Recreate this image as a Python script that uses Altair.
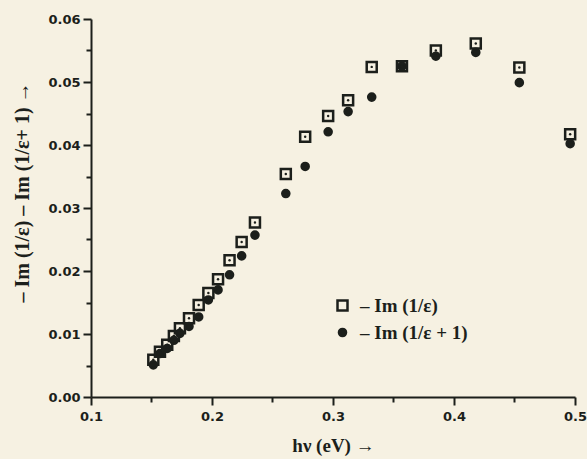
import altair as alt
import pandas as pd

# photon energy (eV) shared by both series
hv = [0.1515, 0.157, 0.163, 0.1685, 0.1735, 0.181, 0.189, 0.197, 0.205, 0.2145,
      0.2245, 0.2355, 0.261, 0.277, 0.296, 0.3125, 0.332, 0.357, 0.385, 0.418,
      0.454, 0.496]
im_eps = [0.0059, 0.0072, 0.0083, 0.0097, 0.0109, 0.0125, 0.0146, 0.0165, 0.0187,
          0.0217, 0.0246, 0.0277, 0.0354, 0.0413, 0.0446, 0.0471, 0.0524, 0.0525,
          0.0550, 0.0561, 0.0523, 0.0417]
im_eps1 = [0.0051, 0.0069, 0.0077, 0.0090, 0.0101, 0.0112, 0.0127, 0.0154, 0.0170,
           0.0194, 0.0224, 0.0257, 0.0323, 0.0366, 0.0421, 0.0453, 0.0476, 0.0525,
           0.0541, 0.0547, 0.0499, 0.0402]
series_names = ["– Im (1/ε)", "– Im (1/ε + 1)"]
y_ticks = [round(i * 0.005, 3) for i in range(13)]
x_ticks = [round(0.1 + i * 0.05, 2) for i in range(9)]

rows = []
for name, vals in [(series_names[1], im_eps1), (series_names[0], im_eps)]:
    for x, v in zip(hv, vals):
        rows.append({"hv": x, "val": v, "series": name})
df = pd.DataFrame(rows)

INK = "#1c1f1b"
BG = "#f6f1e2"
TICKFONT = "DejaVu Sans"
SERIF = "Liberation Serif"

xscale = alt.Scale(domain=[0.1, 0.5], nice=False, zero=False)
yscale = alt.Scale(domain=[0.0, 0.06], nice=False, zero=False)

xaxis = alt.Axis(
    values=x_ticks, ticks=True,
    labelExpr="round(datum.value*20)%2==0 ? format(datum.value,'.1f') : ''",
    title="hν (eV) →",
    titleFont=SERIF, titleFontSize=19, titleFontWeight="bold", titleColor=INK,
    titleY=48, titleBaseline="middle",
    labelFont=TICKFONT, labelFontSize=13, labelFontWeight="bold", labelColor=INK,
    labelPadding=5, labelFlush=False,
    tickSize={"condition": {"test": "round(datum.value*20)%2==0", "value": 8}, "value": 5},
    tickColor=INK, tickWidth=2, tickOpacity=1,
    domainColor=INK, domainWidth=2, grid=False,
)
yaxis = alt.Axis(
    values=y_ticks, ticks=True,
    labelExpr="round(datum.value*200)%2==0 ? format(datum.value,'.2f') : ''",
    title="– Im (1/ε)  – Im (1/ε+ 1) →",
    titleFont=SERIF, titleFontSize=20, titleFontWeight="bold", titleColor=INK,
    titleX=-69, titleY=173, titleBaseline="middle",
    labelFont=TICKFONT, labelFontSize=13, labelFontWeight="bold", labelColor=INK,
    labelPadding=3,
    tickSize={"condition": {"test": "round(datum.value*200)%2==0", "value": 8}, "value": 5},
    tickColor=INK, tickWidth=2, tickOpacity=1,
    domainColor=INK, domainWidth=2, grid=False,
)

dom = series_names
points = alt.Chart(df).mark_point(strokeWidth=2.5, opacity=1).encode(
    x=alt.X("hv:Q", scale=xscale, axis=xaxis),
    y=alt.Y("val:Q", scale=yscale, axis=yaxis),
    shape=alt.Shape("series:N", scale=alt.Scale(domain=dom, range=["square", "circle"]),
                    legend=alt.Legend(title=None)),
    fill=alt.Fill("series:N", scale=alt.Scale(domain=dom, range=["transparent", INK]),
                  legend=alt.Legend(title=None)),
    stroke=alt.Stroke("series:N", scale=alt.Scale(domain=dom, range=[INK, INK]),
                      legend=alt.Legend(title=None)),
    size=alt.Size("series:N", scale=alt.Scale(domain=dom, range=[100, 50]),
                  legend=alt.Legend(title=None)),
)

dots = alt.Chart(df).transform_filter(
    alt.datum.series == series_names[0]
).mark_point(filled=True, size=6, color=INK, opacity=1).encode(
    x=alt.X("hv:Q", scale=xscale, axis=xaxis),
    y=alt.Y("val:Q", scale=yscale, axis=yaxis),
)

chart = alt.layer(points, dots).properties(
    width=484, height=378,
    padding={"left": 91, "top": 19, "right": 12, "bottom": 62},
    autosize=alt.AutoSizeParams(type="none"),
    background=BG,
).configure_view(stroke=None).configure_legend(
    orient="none", legendX=242, legendY=277,
    labelFont=SERIF, labelFontSize=19, labelColor=INK, labelFontWeight="bold",
    rowPadding=7, symbolStrokeWidth=2.5, labelOffset=8,
)

chart.save("out.html", embed_options={"renderer": "svg", "actions": False})
